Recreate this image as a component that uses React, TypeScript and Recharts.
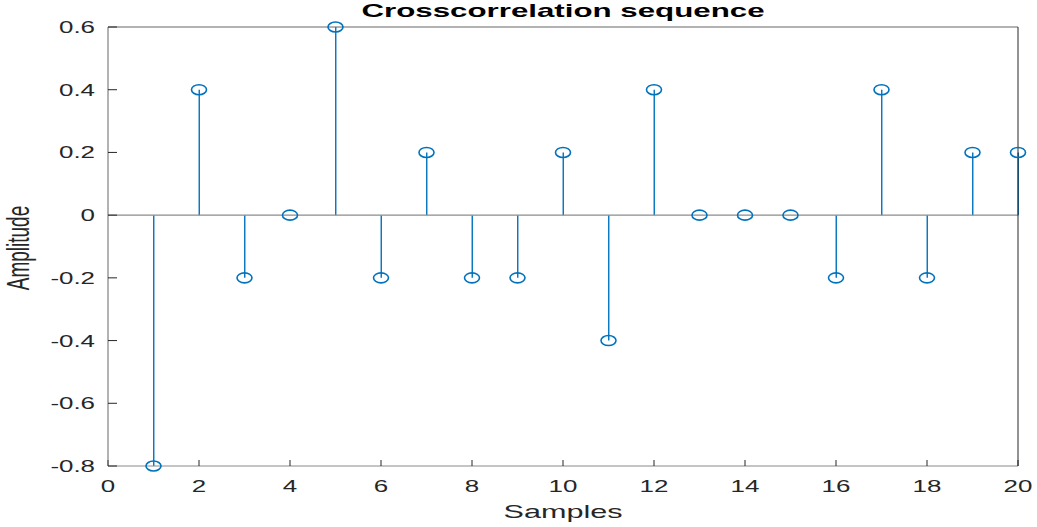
import { ComposedChart, Bar, Scatter, XAxis, YAxis, ReferenceLine } from "recharts";

const samples = [1, 2, 3, 4, 5, 6, 7, 8, 9, 10, 11, 12, 13, 14, 15, 16, 17, 18, 19, 20];
const amplitude = [-0.8, 0.4, -0.2, 0, 0.6, -0.2, 0.2, -0.2, -0.2, 0.2, -0.4, 0.4, 0, 0, 0, -0.2, 0.4, -0.2, 0.2, 0.2];
const xTicks = [0, 2, 4, 6, 8, 10, 12, 14, 16, 18, 20];
const yTicks = [-0.8, -0.6, -0.4, -0.2, 0, 0.2, 0.4, 0.6];

const data = samples.map((s, i) => ({ s, a: amplitude[i] }));

const BLUE = "#0072BD";
const FONT = "'Liberation Sans', Arial, sans-serif";
const STRETCH = 1.62;

function XTick({ x, y, payload }: any) {
  return (
    <g transform={`translate(${x},${y}) scale(${STRETCH},1)`}>
      <text textAnchor="middle" fontFamily={FONT} fontSize={16} fill="#262626">
        {payload.value}
      </text>
    </g>
  );
}

function YTick({ x, y, payload }: any) {
  return (
    <g transform={`translate(${x},${y + 6}) scale(${STRETCH},1)`}>
      <text textAnchor="end" fontFamily={FONT} fontSize={16} fill="#262626">
        {payload.value}
      </text>
    </g>
  );
}

function Stem(props: any) {
  const { x, y, width, height } = props;
  const cx = x + width / 2;
  return <line x1={cx} x2={cx} y1={y} y2={y + height} stroke={BLUE} strokeWidth={1.4} />;
}

function Marker(props: any) {
  const { cx, cy } = props;
  return <ellipse cx={cx} cy={cy} rx={7.5} ry={5} fill="none" stroke={BLUE} strokeWidth={1.6} />;
}

export default function App() {
  return (
    <div style={{ position: "absolute", left: 0, top: 0, width: 1037, height: 527, background: "#fff" }}>
      <div
        style={{
          position: "absolute",
          left: 0,
          top: 2,
          width: 1126,
          textAlign: "center",
          fontFamily: FONT,
          fontWeight: "bold",
          fontSize: 18.5,
          lineHeight: "18px",
          color: "#000",
          transform: `scaleX(${STRETCH + 0.07})`,
          transformOrigin: "563px 0",
          whiteSpace: "nowrap",
        }}
      >
        Crosscorrelation sequence
      </div>
      <ComposedChart
        width={1037}
        height={527}
        data={data}
        margin={{ top: 26, right: 18, bottom: 21, left: 8 }}
      >
        <XAxis
          dataKey="s"
          type="number"
          domain={[0, 20]}
          ticks={xTicks}
          stroke="#8a8a8a"
          tickSize={-6}
          tickMargin={32}
          tickLine={{ stroke: "#262626" }}
          tick={<XTick />}
          height={40}
          label={{
            content: () => (
              <g transform={`translate(563,518) scale(${STRETCH + 0.08},1)`}>
                <text textAnchor="middle" fontFamily={FONT} fontSize={18} fill="#262626">
                  Samples
                </text>
              </g>
            ),
          }}
        />
        <XAxis
          xAxisId="top"
          dataKey="s"
          orientation="top"
          type="number"
          domain={[0, 20]}
          ticks={xTicks}
          height={1}
          stroke="#666"
          tickSize={-6}
          tick={false}
          tickLine={{ stroke: "#262626" }}
        />
        <YAxis
          type="number"
          domain={[-0.8, 0.6]}
          ticks={yTicks}
          width={100}
          stroke="#666"
          tickSize={-9}
          tickMargin={22}
          tickLine={{ stroke: "#262626" }}
          tick={<YTick />}
          label={{
            content: () => (
              <g transform={`translate(29,248) scale(${STRETCH},1) rotate(-90)`}>
                <text textAnchor="middle" fontFamily={FONT} fontSize={19} fill="#262626">
                  Amplitude
                </text>
              </g>
            ),
          }}
        />
        <YAxis
          yAxisId="right"
          orientation="right"
          type="number"
          domain={[-0.8, 0.6]}
          ticks={yTicks}
          width={1}
          stroke="#262626"
          tickSize={-9}
          tick={false}
          tickLine={{ stroke: "#262626" }}
        />
        <ReferenceLine y={0} stroke="#8c8c8c" strokeWidth={1.4} />
        <Bar dataKey="a" barSize={2} shape={<Stem />} isAnimationActive={false} />
        <Scatter
          dataKey="a"
          xAxisId="top"
          yAxisId="right"
          shape={() => <g />}
          isAnimationActive={false}
        />
        <Scatter dataKey="a" shape={<Marker />} isAnimationActive={false} />
      </ComposedChart>
    </div>
  );
}
